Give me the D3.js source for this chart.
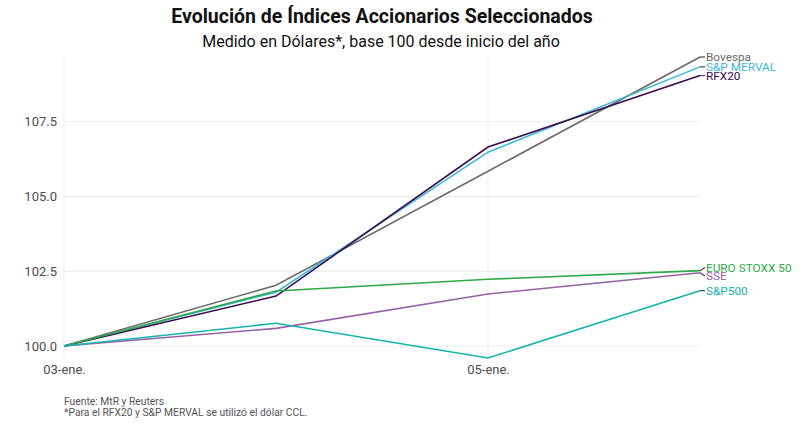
<!DOCTYPE html>
<html>
<head>
<meta charset="utf-8">
<script src="https://cdn.jsdelivr.net/npm/d3@7"></script>
<style>
  body { margin: 0; background: #fff; }
  text { font-family: Roboto, "Noto Sans", sans-serif; }
</style>
</head>
<body>
<div id="chart"></div>
<script>
// Datos
const fechas = ["03-ene.", "04-ene.", "05-ene.", "06-ene."];
const fechasEje = ["03-ene.", "05-ene."];
const ticksY = [100, 102.5, 105, 107.5];

const bovespa    = [100, 102.03, 105.84, 109.66];
const merval     = [100, 101.80, 106.48, 109.33];
const rfx20      = [100, 101.67, 106.65, 109.04];
const eurostoxx  = [100, 101.84, 102.23, 102.52];
const sse        = [100, 100.59, 101.74, 102.45];
const sp500      = [100, 100.76, 99.60, 101.85];

const nombres = ["Bovespa", "S&P MERVAL", "RFX20", "EURO STOXX 50", "SSE", "S&P500"];
const colores = ["#6b6b6b", "#3cb8d8", "#3a0c4e", "#2fa84a", "#9563a3", "#15b3ad"];

const series = [bovespa, merval, rfx20, eurostoxx, sse, sp500].map((v, i) => ({
    nombre: nombres[i], color: colores[i], valores: v
}));

const width = 800, height = 427;
const margin = { top: 57, right: 100, bottom: 69, left: 64 };

const svg = d3.select("#chart")
    .append("svg")
    .attr("width", width)
    .attr("height", height);

const x = d3.scalePoint()
    .domain(fechas)
    .range([margin.left, width - margin.right]);

const todos = series.flatMap(s => s.valores);
const y = d3.scaleLinear()
    .domain(d3.extent(todos))
    .range([height - margin.bottom, margin.top]);

// Grilla
svg.append("g")
    .selectAll("line")
    .data(ticksY)
    .enter()
    .append("line")
    .attr("x1", x.range()[0])
    .attr("x2", x.range()[1])
    .attr("y1", d => y(d))
    .attr("y2", d => y(d))
    .attr("stroke", "#ebebeb")
    .attr("stroke-width", 1);

svg.append("g")
    .selectAll("line")
    .data(fechasEje)
    .enter()
    .append("line")
    .attr("x1", d => x(d))
    .attr("x2", d => x(d))
    .attr("y1", y.range()[0])
    .attr("y2", y.range()[1])
    .attr("stroke", "#ebebeb")
    .attr("stroke-width", 1);

// Ejes
const ejeY = svg.append("g")
    .attr("transform", `translate(${margin.left},0)`)
    .call(d3.axisLeft(y).tickValues(ticksY).tickFormat(d3.format(".1f")).tickSize(0).tickPadding(7));
ejeY.select(".domain").remove();
ejeY.selectAll("text").attr("fill", "#4d4d4d").style("font-size", "13px");

const ejeX = svg.append("g")
    .attr("transform", `translate(0,${height - margin.bottom})`)
    .call(d3.axisBottom(x).tickValues(fechasEje).tickSize(0).tickPadding(7));
ejeX.select(".domain").remove();
ejeX.selectAll("text").attr("fill", "#4d4d4d").style("font-size", "13px");

// Líneas
const linea = d3.line()
    .x((d, i) => x(fechas[i]))
    .y(d => y(d));

svg.append("g")
    .selectAll("path")
    .data(series)
    .enter()
    .append("path")
    .attr("d", d => linea(d.valores))
    .attr("fill", "none")
    .attr("stroke", d => d.color)
    .attr("stroke-width", 1.6);

// Etiquetas con repulsión simple
const ultimo = fechas[fechas.length - 1];
const etiquetas = series.map(s => ({
    nombre: s.nombre, color: s.color,
    y0: y(s.valores[s.valores.length - 1]),
    y: y(s.valores[s.valores.length - 1])
})).sort((a, b) => a.y - b.y);

const gap = 8.5;
for (let k = 0; k < 50; k++) {
    for (let i = 1; i < etiquetas.length; i++) {
        const a = etiquetas[i - 1], b = etiquetas[i];
        const over = gap - (b.y - a.y);
        if (over > 0) {
            a.y -= over / 2;
            b.y += over / 2;
        }
    }
}

const gEtiq = svg.append("g");
gEtiq.selectAll("line")
    .data(etiquetas)
    .enter()
    .append("line")
    .attr("x1", x(ultimo))
    .attr("x2", x(ultimo) + 5)
    .attr("y1", d => d.y0)
    .attr("y2", d => d.y)
    .attr("stroke", "#444")
    .attr("stroke-width", 1.2);

gEtiq.selectAll("text")
    .data(etiquetas)
    .enter()
    .append("text")
    .attr("x", x(ultimo) + 6)
    .attr("y", d => d.y)
    .attr("dy", "0.36em")
    .attr("fill", d => d.color)
    .style("font-size", "11.8px")
    .text(d => d.nombre);

// Títulos
svg.append("text")
    .attr("x", 382)
    .attr("y", 23)
    .attr("text-anchor", "middle")
    .style("font-size", "19.5px")
    .style("font-weight", "bold")
    .attr("fill", "#111")
    .text("Evolución de Índices Accionarios Seleccionados");

svg.append("text")
    .attr("x", 381)
    .attr("y", 47)
    .attr("text-anchor", "middle")
    .style("font-size", "16px")
    .attr("fill", "#111")
    .text("Medido en Dólares*, base 100 desde inicio del año");

// Fuente
const fuente = svg.append("text")
    .attr("x", margin.left)
    .attr("y", 405)
    .style("font-size", "10.3px")
    .attr("fill", "#555");
fuente.append("tspan").attr("x", margin.left).text("Fuente: MtR y Reuters");
fuente.append("tspan").attr("x", margin.left).attr("dy", "1.1em").text("*Para el RFX20 y S&P MERVAL se utilizó el dólar CCL.");
</script>
</body>
</html>
